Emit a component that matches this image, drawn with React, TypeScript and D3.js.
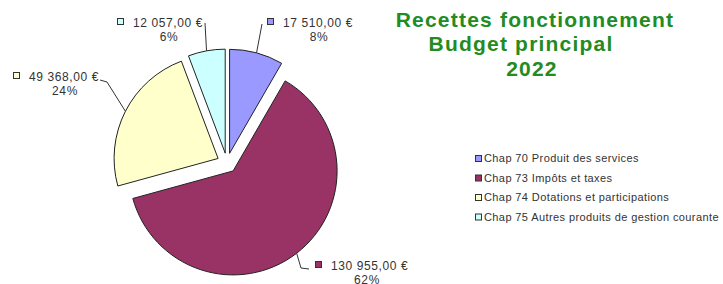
import * as d3 from "d3";

const categories = [
  "Chap 70 Produit des services",
  "Chap 73 Impôts et taxes",
  "Chap 74 Dotations et participations",
  "Chap 75 Autres produits de gestion courante",
];
const amounts = [17510, 130955, 49368, 12057];
const colors = ["#9999ff", "#993366", "#ffffcc", "#ccffff"];
const titleLines = ["Recettes fonctionnement", "Budget principal", "2022"];

const W = 723;
const H = 284;
const cx = 227;
const cy = 163;
const radius = 104;
const explode = 10;
const font = "'Liberation Sans', Arial, sans-serif";

// where each value label sits (marker left, value baseline)
const labelPos = [
  { x: 267, y: 27 },
  { x: 315, y: 270 },
  { x: 13, y: 81 },
  { x: 117, y: 27 },
];
const titleX = [535, 521, 532];

const fr = d3.formatLocale({
  decimal: ",",
  thousands: "\u00a0",
  grouping: [3],
  currency: ["", "\u00a0€"],
});
const fmtMoney = fr.format("$,.2f");

export default function App() {
  const total = d3.sum(amounts);
  const pie = d3.pie<number>().sort(null).value((d) => d)(amounts);
  const arc = d3.arc<d3.PieArcDatum<number>>().innerRadius(0).outerRadius(radius);
  const line = d3.line();

  const slices = pie.map((p, i) => {
    const mid = (p.startAngle + p.endAngle) / 2;
    const dx = Math.sin(mid) * explode;
    const dy = -Math.cos(mid) * explode;
    const edge: [number, number] = [
      cx + dx + Math.sin(mid) * radius,
      cy + dy - Math.cos(mid) * radius,
    ];
    return { p, i, dx, dy, edge };
  });

  const leaders: [number, number][][] = [
    [slices[0].edge, [labelPos[0].x - 5, labelPos[0].y - 3]],
    [slices[1].edge, [labelPos[1].x - 14, labelPos[1].y - 2], [labelPos[1].x - 6, labelPos[1].y - 1]],
    [slices[2].edge, [107, labelPos[2].y + 1], [100, labelPos[2].y - 1]],
    [slices[3].edge, [205, labelPos[3].y - 4]],
  ];

  return (
    <svg
      width={W}
      height={H}
      style={{ position: "absolute", left: 0, top: 0, background: "#fff" }}
    >
      <g>
        {slices.map((s) => (
          <path
            key={s.i}
            d={arc(s.p) || ""}
            transform={`translate(${cx + s.dx},${cy + s.dy})`}
            fill={colors[s.i]}
            stroke="#222"
            strokeWidth={1}
          />
        ))}
      </g>
      <g fill="none" stroke="#333" strokeWidth={1}>
        {leaders.map((pts, i) => (
          <path key={i} d={line(pts) || ""} />
        ))}
      </g>
      <g fontFamily={font} fontSize={12} fill="#333" letterSpacing={0.6}>
        {slices.map((s) => {
          const pos = labelPos[s.i];
          const tx = pos.x + 16;
          const valueText = fmtMoney(amounts[s.i]);
          const pct = d3.format(".0%")(amounts[s.i] / total);
          return (
            <g key={s.i}>
              <rect
                x={pos.x + 0.5}
                y={pos.y - 8.5}
                width={6}
                height={6}
                fill={colors[s.i]}
                stroke="#333"
              />
              <text x={tx} y={pos.y}>
                {valueText}
              </text>
              <text x={tx + 36} y={pos.y + 14} textAnchor="middle">
                {pct}
              </text>
            </g>
          );
        })}
      </g>
      <g
        fontFamily={font}
        fontSize={21}
        fontWeight="bold"
        fill="#228b22"
        textAnchor="middle"
        letterSpacing={1.2}
      >
        {titleLines.map((t, i) => (
          <text key={i} x={titleX[i]} y={26.5 + i * 24.75}>
            {t}
          </text>
        ))}
      </g>
      <g fontFamily={font} fontSize={11} fill="#333" letterSpacing={0.4}>
        {categories.map((c, i) => (
          <g key={i} transform={`translate(475,${158 + i * 19.5})`}>
            <rect x={0.5} y={-2.5} width={6} height={6} fill={colors[i]} stroke="#333" />
            <text x={9} y={4}>
              {c}
            </text>
          </g>
        ))}
      </g>
    </svg>
  );
}
